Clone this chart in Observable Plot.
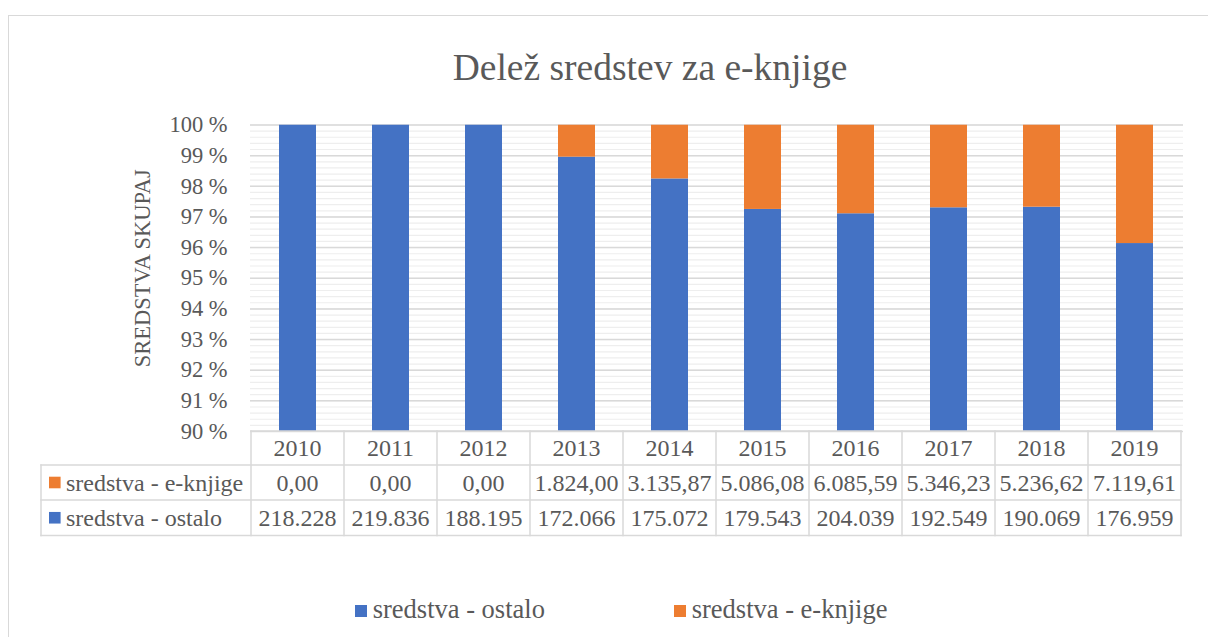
<!DOCTYPE html>
<html>
<head>
<meta charset="utf-8">
<script src="https://cdn.jsdelivr.net/npm/d3@7"></script>
<script src="https://cdn.jsdelivr.net/npm/@observablehq/plot@0.6"></script>
<style>
  body { margin: 0; background: #fff; }
  #wrap { position: relative; width: 1208px; height: 637px; overflow: hidden;
          font-family: "Liberation Serif", "Times New Roman", serif; color: #595959; }
  #border { position: absolute; left: 8px; top: 15px; width: 1400px; height: 800px;
            border: 1.5px solid #d9d9d9; box-sizing: border-box; }
  #title { position: absolute; left: 0; width: 1300px; top: 48.6px; text-align: center;
           font-size: 37.5px; line-height: 37.5px; white-space: nowrap; }
  #chart { position: absolute; left: 0; top: 100px; }
  #legend { position: absolute; left: 355px; top: 596px; display: flex; }
  .item { width: 319px; display: flex; align-items: flex-start; white-space: nowrap;
          font-size: 26.5px; line-height: 26.5px; }
  .key { width: 11.7px; height: 11.7px; margin-top: 9px; margin-right: 6px; flex: none; }
</style>
</head>
<body>
<div id="wrap">
  <div id="border"></div>
  <div id="title">Delež sredstev za e-knjige</div>
  <div id="chart"></div>
  <div id="legend"></div>
</div>
<script>
// ---- data ----
const years = ["2010", "2011", "2012", "2013", "2014", "2015", "2016", "2017", "2018", "2019"];
const eknjige = [0, 0, 0, 1824.00, 3135.87, 5086.08, 6085.59, 5346.23, 5236.62, 7119.61];
const ostalo = [218228, 219836, 188195, 172066, 175072, 179543, 204039, 192549, 190069, 176959];
const seriesNames = ["sredstva - ostalo", "sredstva - e-knjige"];
const seriesColors = ["#4472C4", "#ED7D31"];
const yTickValues = [90, 91, 92, 93, 94, 95, 96, 97, 98, 99, 100];
const yTitle = "SREDSTVA SKUPAJ";

// ---- derived ----
const majorTicks = yTickValues.map(v => v / 100);
const minorTicks = d3.range(450, 501).map(v => v / 500);
const long = years.flatMap((yr, i) => [
  {year: yr, series: seriesNames[0], value: ostalo[i]},
  {year: yr, series: seriesNames[1], value: eknjige[i]}
]);
const loc = d3.formatLocale({decimal: ",", thousands: ".", grouping: [3], currency: ["", ""]});
const fmtE = loc.format(",.2f");
const fmtO = loc.format(",.0f");

const H = 440, MT = 24.5, MB = 109;
const plot = Plot.plot({
  width: 1208, height: H,
  marginTop: MT, marginBottom: MB, marginLeft: 250, marginRight: 25,
  style: {fontFamily: '"Liberation Serif", "Times New Roman", serif', fontSize: "22.5px",
          color: "#595959", background: "transparent", overflow: "visible"},
  x: {domain: years, paddingInner: 0.6, paddingOuter: 0.3, axis: null},
  y: {domain: [0.9, 1], axis: null},
  color: {domain: seriesNames, range: seriesColors},
  marks: [
    Plot.ruleY(minorTicks, {stroke: "#eeeeee", strokeWidth: 1.2}),
    Plot.ruleY(majorTicks, {stroke: "#d9d9d9", strokeWidth: 1.5}),
    Plot.barY(long, {x: "year", y: "value", fill: "series", offset: "normalize",
                     order: seriesNames, clip: true}),
    Plot.axisY({ticks: majorTicks, tickFormat: d => Math.round(d * 100) + "\u00a0%",
                tickSize: 0, tickPadding: 23, label: null}),
    Plot.text([yTitle], {text: d => d, frameAnchor: "left", textAnchor: "middle", rotate: -90,
                         dx: -108, dy: -10, fill: "#595959"})
  ]
});
document.getElementById("chart").appendChild(plot);

// ---- data table under the plot, aligned to Plot's x scale ----
const sx = plot.scale("x");
const step = sx.step, bw = sx.bandwidth;
const cx = v => sx.apply(v) + bw / 2;
const left = cx(years[0]) - step / 2, right = cx(years[years.length - 1]) + step / 2;
const labelLeft = 41;
const r0 = H - MB, r1 = r0 + 34, r2 = r1 + 35, r3 = r2 + 35.5;
const g = d3.select(plot).append("g").attr("fill", "#595959").attr("stroke-linecap", "square");
const line = (x1, y1, x2, y2) => g.append("line").attr("x1", x1).attr("y1", y1).attr("x2", x2).attr("y2", y2)
  .attr("stroke", "#d9d9d9").attr("stroke-width", 1.5);
line(left, r0, right, r0);
[r1, r2, r3].forEach(y => line(labelLeft, y, right, y));
line(labelLeft, r1, labelLeft, r3);
years.forEach(yr => line(cx(yr) - step / 2, r0, cx(yr) - step / 2, r3));
line(right, r0, right, r3);

const cellText = (x, y, t, anchor) => g.append("text").attr("x", x).attr("y", y).attr("dy", "0.35em")
  .attr("text-anchor", anchor).attr("font-size", "24px").text(t);
years.forEach(yr => cellText(cx(yr), (r0 + r1) / 2, yr, "middle"));
const rows = [
  {name: seriesNames[1], color: seriesColors[1], vals: eknjige.map(fmtE), top: r1, bot: r2},
  {name: seriesNames[0], color: seriesColors[0], vals: ostalo.map(fmtO), top: r2, bot: r3}
];
rows.forEach(r => {
  const ym = (r.top + r.bot) / 2;
  g.append("rect").attr("x", 49).attr("y", ym - 5.8).attr("width", 11.6).attr("height", 11.6).attr("fill", r.color);
  cellText(66, ym, r.name, "start");
  years.forEach((yr, i) => cellText(cx(yr), ym, r.vals[i], "middle"));
});

// ---- legend ----
const legend = d3.select("#legend");
seriesNames.forEach((n, i) => {
  const it = legend.append("div").attr("class", "item");
  it.append("div").attr("class", "key").style("background", seriesColors[i]);
  it.append("span").text(n);
});
</script>
</body>
</html>
